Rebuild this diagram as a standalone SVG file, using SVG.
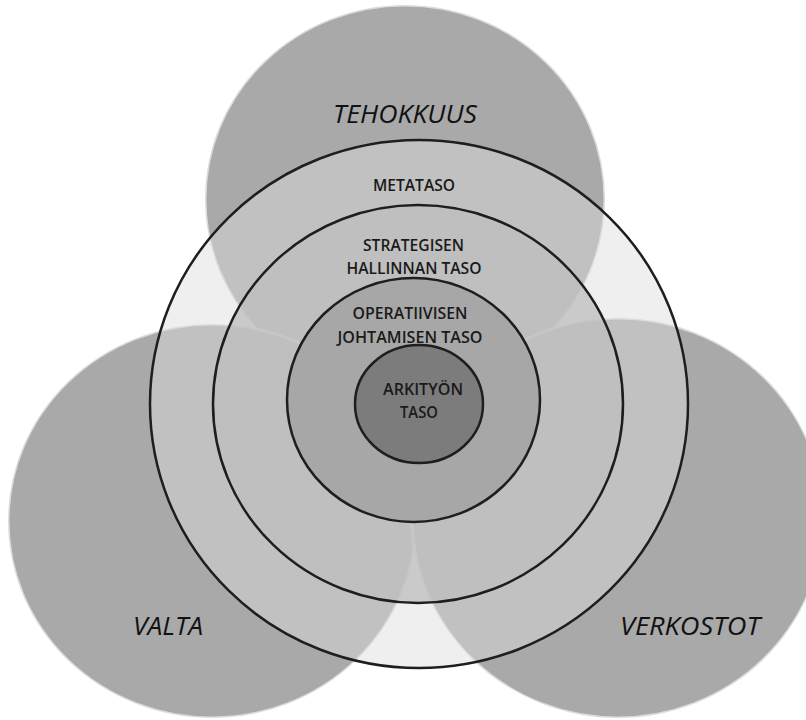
<svg xmlns="http://www.w3.org/2000/svg" width="806" height="720" viewBox="0 0 806 720">
  <style>
    .big { fill: #a9a9a9; stroke: #ffffff; stroke-opacity: 0.6; stroke-width: 3; }
    .ring { stroke: #1e1e1e; stroke-width: 2.5; }
    .lbl { font-family: "Open Sans", "Liberation Sans", sans-serif; font-style: italic; font-size: 26px; fill: #111; text-anchor: middle; }
    .lvl { font-family: "Open Sans", "Liberation Sans", sans-serif; font-size: 16.5px; font-weight: 600; fill: #1a1a1a; text-anchor: middle; }
  </style>
  <rect width="806" height="720" fill="#ffffff"/>
  <g id="tehokkuus">
    <ellipse class="big" cx="405" cy="199" rx="200" ry="194"/>
  </g>
  <g id="valta">
    <ellipse class="big" cx="212" cy="521" rx="204" ry="197"/>
  </g>
  <g id="verkostot">
    <ellipse class="big" cx="618" cy="518" rx="206" ry="200"/>
  </g>
  <g id="metataso">
    <ellipse class="ring" cx="419" cy="404" rx="269" ry="264" fill="#dddddd" fill-opacity="0.465"/>
  </g>
  <g id="strateginen">
    <ellipse class="ring" cx="418" cy="404" rx="205" ry="199" fill="#bebebe" fill-opacity="0.76"/>
  </g>
  <g id="operatiivinen">
    <ellipse class="ring" cx="413.5" cy="400" rx="126.5" ry="122" fill="#a5a5a5" fill-opacity="0.93"/>
  </g>
  <g id="arkityo">
    <ellipse class="ring" cx="419" cy="404" rx="64" ry="59" fill="#7c7c7c"/>
  </g>
  <g id="connectors"></g>
  <g id="labels">
    <text class="lbl" x="405" y="123" textLength="144" lengthAdjust="spacingAndGlyphs">TEHOKKUUS</text>
    <text class="lbl" x="168" y="635" textLength="70" lengthAdjust="spacingAndGlyphs">VALTA</text>
    <text class="lbl" x="690" y="635" textLength="140" lengthAdjust="spacingAndGlyphs">VERKOSTOT</text>
    <text class="lvl" x="414" y="191" textLength="82" lengthAdjust="spacingAndGlyphs">METATASO</text>
    <text class="lvl" x="413.5" y="251" textLength="101" lengthAdjust="spacingAndGlyphs">STRATEGISEN</text>
    <text class="lvl" x="414" y="274" textLength="135" lengthAdjust="spacingAndGlyphs">HALLINNAN TASO</text>
    <text class="lvl" x="410" y="319" textLength="115" lengthAdjust="spacingAndGlyphs">OPERATIIVISEN</text>
    <text class="lvl" x="410" y="343" textLength="145" lengthAdjust="spacingAndGlyphs">JOHTAMISEN TASO</text>
    <text class="lvl" x="423" y="395" textLength="80" lengthAdjust="spacingAndGlyphs">ARKITYÖN</text>
    <text class="lvl" x="419" y="418" textLength="38" lengthAdjust="spacingAndGlyphs">TASO</text>
  </g>
</svg>
